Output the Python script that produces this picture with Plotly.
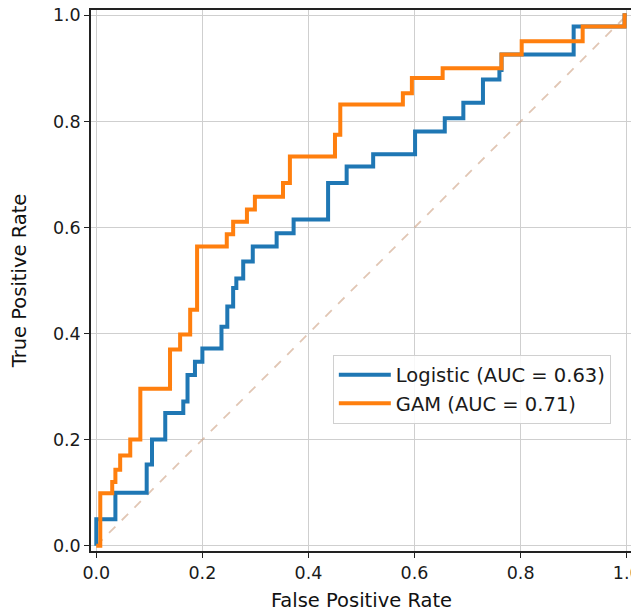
import plotly.graph_objects as go

# ROC corner points (step "hv": horizontal then vertical)
logistic_fpr = [0.0, 0.0, 0.036, 0.095, 0.105, 0.13, 0.164, 0.172, 0.186, 0.2, 0.236, 0.247,
                0.258, 0.264, 0.277, 0.295, 0.34, 0.372, 0.437, 0.472, 0.522, 0.601, 0.657,
                0.692, 0.729, 0.76, 0.764, 0.9, 0.996, 1.0]
logistic_tpr = [0.0, 0.05, 0.10, 0.153, 0.2, 0.25, 0.272, 0.322, 0.347, 0.372, 0.413, 0.451,
                0.486, 0.504, 0.536, 0.564, 0.589, 0.615, 0.684, 0.715, 0.738, 0.781, 0.806,
                0.835, 0.879, 0.897, 0.926, 0.979, 1.0, 1.0]

gam_fpr = [0.0, 0.0075, 0.03, 0.036, 0.045, 0.064, 0.083, 0.139, 0.158, 0.177, 0.19, 0.246,
           0.258, 0.284, 0.299, 0.352, 0.365, 0.45, 0.46, 0.578, 0.595, 0.653, 0.764, 0.802,
           0.917, 0.996, 1.0]
gam_tpr = [0.0, 0.099, 0.12, 0.143, 0.17, 0.2, 0.296, 0.37, 0.398, 0.445, 0.564, 0.587,
           0.611, 0.634, 0.658, 0.684, 0.734, 0.775, 0.832, 0.853, 0.882, 0.9, 0.926, 0.951,
           0.979, 1.0, 1.0]

chance_x = [0, 1]
chance_y = [0, 1]

tick_vals = [0.0, 0.2, 0.4, 0.6, 0.8, 1.0]
tick_text = ["0.0", "0.2", "0.4", "0.6", "0.8", "1.0"]

labels = ["Logistic (AUC = 0.63)", "GAM (AUC = 0.71)"]

FONT = "DejaVu Sans"
FS = 19.5
TFS = 17.5

fig = go.Figure()
fig.add_trace(go.Scatter(x=chance_x, y=chance_y, mode="lines",
                         line=dict(color="rgba(205,160,130,0.6)", width=1.8, dash="dash"),
                         showlegend=False, hoverinfo="skip"))
fig.add_trace(go.Scatter(x=logistic_fpr, y=logistic_tpr, mode="lines", name=labels[0],
                         line=dict(color="#1f77b4", width=4, shape="hv")))
fig.add_trace(go.Scatter(x=gam_fpr, y=gam_tpr, mode="lines", name=labels[1],
                         line=dict(color="#ff7f0e", width=4, shape="hv")))

axis_common = dict(
    range=[-0.01, 1.01],
    tickvals=tick_vals,
    ticktext=tick_text,
    showgrid=True,
    gridcolor="#cfcfcf",
    gridwidth=1,
    zeroline=False,
    showline=True,
    linecolor="#222222",
    linewidth=1.5,
    mirror=True,
    ticks="outside",
    ticklen=5,
    tickcolor="#222222",
    ticklabeloverflow="allow",
    tickfont=dict(family=FONT, size=TFS, color="#1a1a1a"),
)

fig.update_xaxes(**axis_common,
                 title=dict(text="False Positive Rate", font=dict(family=FONT, size=FS, color="#111111"),
                            standoff=12))
fig.update_yaxes(**axis_common,
                 title=dict(text="True Positive Rate", font=dict(family=FONT, size=FS, color="#111111"),
                            standoff=23))

fig.update_layout(
    width=631, height=608,
    margin=dict(l=83, r=7, t=2, b=65, autoexpand=False),
    plot_bgcolor="white",
    paper_bgcolor="white",
    font=dict(family=FONT, size=FS, color="#1a1a1a"),
    legend=dict(x=0.447, y=0.363, xanchor="left", yanchor="top",
                bgcolor="rgba(255,255,255,0.85)", bordercolor="#d0d0d0", borderwidth=1,
                font=dict(family=FONT, size=FS, color="#1a1a1a"),
                tracegroupgap=0, itemwidth=52),
)

fig.write_html("out.html")
